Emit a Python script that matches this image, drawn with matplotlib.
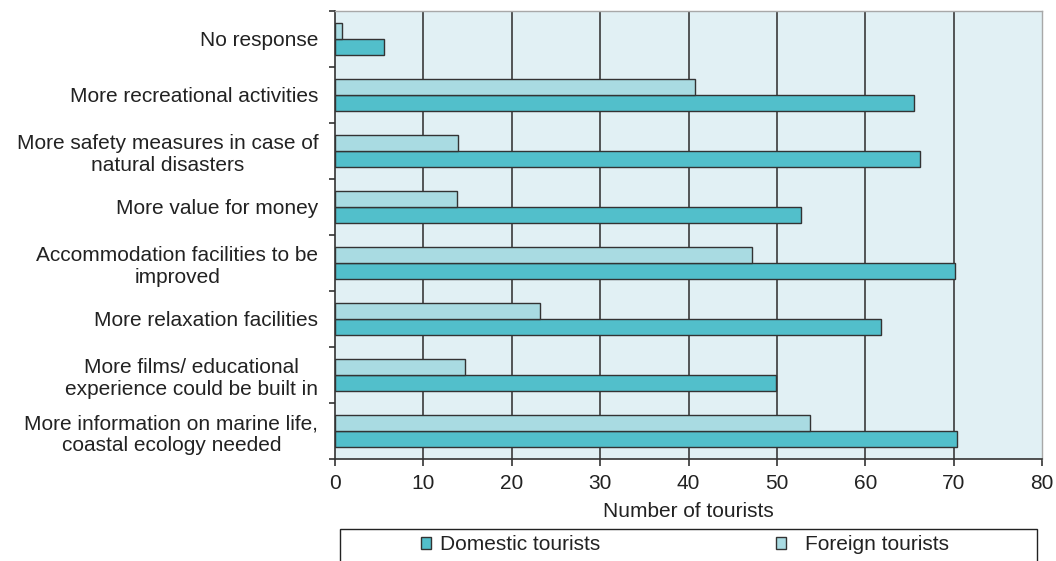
import numpy as np
import matplotlib
matplotlib.use("Agg")
import matplotlib.pyplot as plt
from matplotlib.ticker import FixedLocator
from matplotlib.patches import Rectangle

plt.rcParams['font.family'] = ['Liberation Sans', 'DejaVu Sans']

categories = [
    "No response",
    "More recreational activities",
    "More safety measures in case of\nnatural disasters",
    "More value for money",
    "Accommodation facilities to be\nimproved",
    "More relaxation facilities",
    "More films/ educational\nexperience could be built in",
    "More information on marine life,\ncoastal ecology needed",
]
domestic = [5.5, 65.5, 66.2, 52.7, 70.2, 61.8, 49.9, 70.4]
foreign = [0.8, 40.7, 13.9, 13.8, 47.2, 23.2, 14.7, 53.8]
x_ticks = [0, 10, 20, 30, 40, 50, 60, 70, 80]

dom_color = "#52bfcb"
for_color = "#a9dbe2"
bg_color = "#e1f0f4"
edge = "#333333"
txt = "#222222"
fs = 15

W, H = 1056, 561
fig = plt.figure(figsize=(W / 100, H / 100), dpi=100)
ax = fig.add_axes([335 / W, 1 - 459 / H, 707 / W, 448 / H])
ax.set_facecolor(bg_color)

y = np.arange(len(categories))
h = 0.286
b_dom = ax.barh(y + h / 2, domestic, height=h, color=dom_color, edgecolor=edge,
                linewidth=1.0, label="Domestic tourists", zorder=3)
b_for = ax.barh(y - h / 2, foreign, height=h, color=for_color, edgecolor=edge,
                linewidth=1.0, label="Foreign tourists", zorder=3)

ax.set_xlim(0, 80)
ax.set_ylim(len(categories) - 0.5, -0.5)
ax.set_xticks(x_ticks)
ax.set_xticklabels([str(t) for t in x_ticks], fontsize=fs, color=txt)
ax.set_yticks(y)
ax.set_yticklabels(categories, fontsize=fs, color=txt, linespacing=1.2,
                   multialignment="center")
ax.yaxis.set_minor_locator(FixedLocator(np.arange(-0.5, len(categories), 1.0)))
ax.tick_params(axis='y', which='major', length=0, pad=12)
ax.tick_params(axis='y', which='minor', length=4, width=1.2, color=edge, direction='out')
ax.tick_params(axis='x', which='major', length=5, width=1.2, color=edge, direction='out', pad=6)

for xv in x_ticks[1:-1]:
    ax.axvline(xv, color="#3a3a3a", linewidth=1.2, zorder=1)

for side in ("left", "bottom"):
    ax.spines[side].set_color(edge)
    ax.spines[side].set_linewidth(1.2)
for side in ("top", "right"):
    ax.spines[side].set_color("#a8a8a8")
    ax.spines[side].set_linewidth(1.0)

ax.set_xlabel("Number of tourists", fontsize=fs, color=txt, labelpad=6)

# legend: outer frame plus one entry per series
fig.patches.append(Rectangle((340 / W, -0.05), 697 / W, 0.05 + (H - 529) / H,
                             transform=fig.transFigure, facecolor="white",
                             edgecolor=txt, linewidth=1.0, zorder=0))
for handle, x_left in ((b_dom, 421), (b_for, 776)):
    lg = fig.legend(handles=[handle], loc="center left",
                    bbox_to_anchor=(x_left / W, 1 - 545 / H), fontsize=fs,
                    frameon=False, handlelength=0.5, handleheight=0.5,
                    handletextpad=0.4 if handle is b_dom else 0.9,
                    borderpad=0, borderaxespad=0)
    for t in lg.get_texts():
        t.set_color(txt)

fig.savefig("out.png", dpi=100)
